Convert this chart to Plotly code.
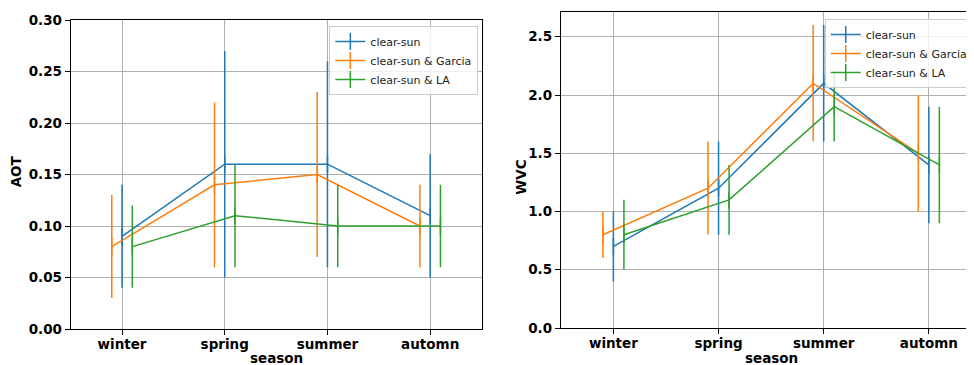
import numpy as np
import plotly.graph_objects as go

seasons = ["winter", "spring", "summer", "automn"]
series_names = ["clear-sun", "clear-sun & Garcia", "clear-sun & LA"]

aot_clear = [0.09, 0.16, 0.16, 0.11]
aot_clear_err = [0.05, 0.11, 0.10, 0.06]
aot_garcia = [0.08, 0.14, 0.15, 0.10]
aot_garcia_err = [0.05, 0.08, 0.08, 0.04]
aot_la = [0.08, 0.11, 0.10, 0.10]
aot_la_err = [0.04, 0.05, 0.04, 0.04]

wvc_clear = [0.7, 1.2, 2.1, 1.4]
wvc_clear_err = [0.3, 0.4, 0.5, 0.5]
wvc_garcia = [0.8, 1.2, 2.1, 1.5]
wvc_garcia_err = [0.2, 0.4, 0.5, 0.5]
wvc_la = [0.8, 1.1, 1.9, 1.4]
wvc_la_err = [0.3, 0.3, 0.3, 0.5]

colors = ["#1f77b4", "#ff7f0e", "#2ca02c"]
offsets = [0.0, -0.1, 0.1]
FONT = "DejaVu Sans"

# page body has an 8px margin; figure is sized to fill the rest of the 974x365 window
W, H = 966, 357

fig = go.Figure()
base = np.arange(len(seasons))

panels = [
    ("x", "y", "legend", [aot_clear, aot_garcia, aot_la], [aot_clear_err, aot_garcia_err, aot_la_err]),
    ("x2", "y2", "legend2", [wvc_clear, wvc_garcia, wvc_la], [wvc_clear_err, wvc_garcia_err, wvc_la_err]),
]
for xa, ya, leg, vals, errs in panels:
    for name, v, e, c, off in zip(series_names, vals, errs, colors, offsets):
        fig.add_trace(go.Scatter(
            x=base + off, y=v, name=name, mode="lines+markers",
            line=dict(color=c, width=1.5),
            marker=dict(symbol="line-ns-open", size=12, color=c, line=dict(color=c, width=1.5)),
            error_y=dict(type="data", array=e, visible=True, width=0, thickness=1.5, color=c),
            xaxis=xa, yaxis=ya, legend=leg,
        ))

tickfont = dict(family=FONT, size=13.5, color="black", weight="bold")
titlefont = dict(family=FONT, size=13.5, color="black", weight="bold")
common_x = dict(tickvals=list(base), ticktext=seasons, showgrid=True, gridcolor="#b0b0b0", gridwidth=0.8,
                zeroline=False, showline=True, linecolor="black", linewidth=1, ticks="outside",
                ticklen=5, tickcolor="black", tickfont=tickfont, automargin=False,
                ticklabelstandoff=-2)
common_y = dict(showgrid=True, gridcolor="#b0b0b0", gridwidth=0.8, zeroline=False, showline=True,
                linecolor="black", linewidth=1, ticks="outside", ticklen=5, tickcolor="black",
                tickfont=tickfont, automargin=False)

def px(x):
    return (x - 8) / W

def py(y):
    return 1 - (y - 8) / H

legend_style = dict(xanchor="left", yanchor="top", bgcolor="rgba(255,255,255,0.8)",
                    bordercolor="#cccccc", borderwidth=1,
                    font=dict(family=FONT, size=11, color="#222222"), tracegroupgap=0, itemwidth=30)

fig.update_layout(
    width=W, height=H,
    margin=dict(l=0, r=0, t=0, b=0),
    paper_bgcolor="white", plot_bgcolor="white",
    font=dict(family=FONT, size=11, color="black"),
    xaxis=dict(common_x, domain=[px(71), px(484)], range=[-0.5, 3.5], mirror=True, anchor="y"),
    yaxis=dict(common_y, domain=[py(329), py(20)], range=[0, 0.30], dtick=0.05, tickformat=".2f",
               mirror=True, anchor="x"),
    xaxis2=dict(common_x, domain=[px(563.7), 1.0], range=[-0.5, 3.382], mirror=True, anchor="y2"),
    yaxis2=dict(common_y, domain=[py(328), py(12.3)], range=[0, 2.71], dtick=0.5, tickformat=".1f",
                mirror=False, anchor="x2"),
    legend=dict(legend_style, x=px(331), y=py(26)),
    legend2=dict(legend_style, x=px(829), y=py(19)),
    showlegend=True,
)

titles = [
    ("AOT", px(15.7), py(171.7), -90),
    ("WVC", px(523.3), py(177), -90),
    ("season", px(278), py(357.5), 0),
    ("season", px(775), py(357.5), 0),
]
for text, x, y, ang in titles:
    fig.add_annotation(text=text, x=x, y=y, xref="paper", yref="paper", showarrow=False,
                       xanchor="center", yanchor="middle", textangle=ang, font=titlefont,
                       borderpad=0)

fig.write_html("out.html")
